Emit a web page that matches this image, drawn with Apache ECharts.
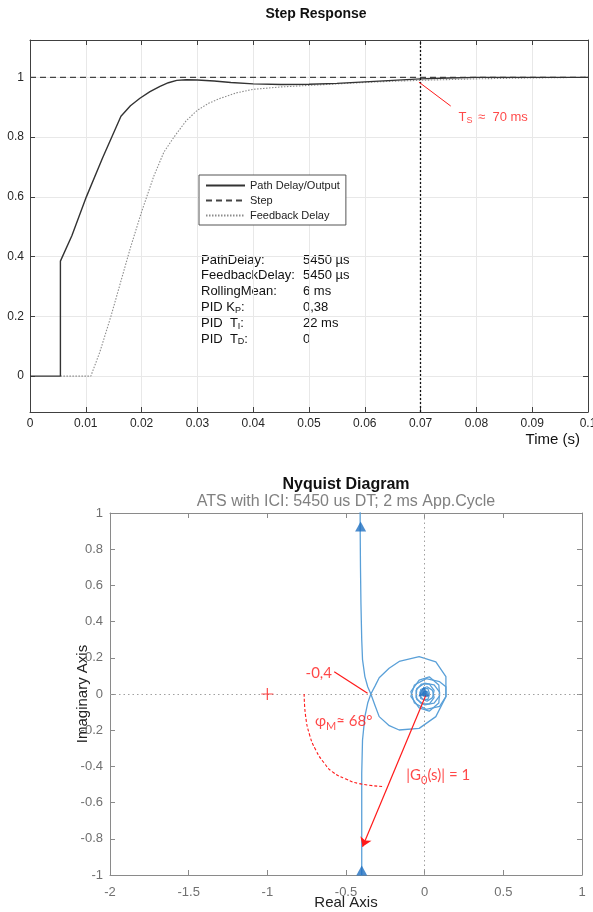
<!DOCTYPE html>
<html>
<head>
<meta charset="utf-8">
<script src="https://cdn.jsdelivr.net/npm/echarts@6/dist/echarts.min.js"></script>
<style>
html, body { margin: 0; padding: 0; background: #fff; }
#chart { width: 593px; height: 912px; }
</style>
</head>
<body>
<div id="chart"></div>
<script>
// ---- step response ----
const pathOutput = [
  [0, 0], [0.00545, 0], [0.00545, 0.385], [0.0075, 0.47], [0.0101, 0.60], [0.013, 0.73],
  [0.0163, 0.87], [0.018, 0.905], [0.0197, 0.93], [0.0215, 0.952], [0.0233, 0.97],
  [0.0248, 0.982], [0.0263, 0.99], [0.028, 0.992], [0.030, 0.991], [0.033, 0.988],
  [0.036, 0.983], [0.040, 0.978], [0.045, 0.976], [0.050, 0.977], [0.055, 0.98],
  [0.060, 0.985], [0.065, 0.99], [0.070, 0.995], [0.075, 0.998], [0.080, 1.0], [0.1, 1.0]
];
const stepInput = [[0, 1], [0.1, 1]];
const feedbackDelay = [
  [0.00545, 0], [0.0109, 0], [0.0125, 0.08], [0.0145, 0.2], [0.018, 0.43], [0.020, 0.55],
  [0.0222, 0.67], [0.024, 0.75], [0.0258, 0.80], [0.028, 0.855], [0.030, 0.89],
  [0.032, 0.913], [0.0341, 0.93], [0.037, 0.948], [0.040, 0.96], [0.045, 0.968],
  [0.050, 0.973], [0.055, 0.978], [0.060, 0.983], [0.065, 0.987], [0.070, 0.99],
  [0.080, 0.995], [0.090, 0.998], [0.1, 1.0]
];
const settleTime = 0.07;
const settlePointer = [[0.0697, 0.984], [0.0754, 0.904]];
const settleLabelAt = [0.0767, 0.867];

const paramLabels = ['PathDelay:', 'FeedbackDelay:', 'RollingMean:',
  '{t|PID K}{s|P}{t|:}', '{t|PID  T}{s|I}{t|:}', '{t|PID  T}{s|D}{t|:}'];
const paramValues = ['5450 µs', '5450 µs', '6 ms', '0,38', '22 ms', '0'];

// ---- nyquist ----
const branchTop = [
  [-0.41, 1.3], [-0.41, 0.92], [-0.408, 0.7], [-0.405, 0.5], [-0.40, 0.3], [-0.395, 0.19],
  [-0.38, 0.096], [-0.362, 0.04], [-0.342, 0.0], [-0.315, -0.065], [-0.289, -0.125],
  [-0.225, -0.175], [-0.162, -0.199], [-0.035, -0.19], [0.071, -0.125], [0.135, -0.015],
  [0.135, 0.04], [0.095, 0.068], [0.01, 0.085], [-0.065, 0.05], [-0.088, -0.013],
  [-0.035, -0.077], [0.029, -0.095], [0.09, -0.05], [0.095, 0.01], [0.06, 0.05], [0.0, 0.06],
  [-0.05, 0.03], [-0.055, -0.02], [-0.02, -0.055], [0.03, -0.055], [0.06, -0.02], [0.05, 0.02],
  [0.015, 0.04], [-0.025, 0.025], [-0.03, -0.01], [-0.01, -0.03], [0.02, -0.03], [0.03, -0.005],
  [0.015, 0.015], [-0.005, 0.012], [-0.012, -0.005], [0, -0.015], [0.01, -0.005], [0, 0]
];
const branchBottom = [
  [-0.40, -1.3], [-0.40, -0.975], [-0.40, -0.7], [-0.40, -0.44], [-0.395, -0.254],
  [-0.38, -0.125], [-0.362, -0.05], [-0.342, 0.0], [-0.315, 0.045], [-0.289, 0.09],
  [-0.226, 0.142], [-0.162, 0.18], [-0.035, 0.206], [0.071, 0.178], [0.135, 0.096],
  [0.135, -0.015], [0.095, -0.068], [0.01, -0.085], [-0.065, -0.05], [-0.088, 0.013],
  [-0.035, 0.077], [0.029, 0.095], [0.09, 0.05], [0.095, -0.01], [0.06, -0.05], [0.0, -0.06],
  [-0.05, -0.03], [-0.055, 0.02], [-0.02, 0.055], [0.03, 0.055], [0.06, 0.02], [0.05, -0.02],
  [0.015, -0.04], [-0.025, -0.025], [-0.03, 0.01], [-0.01, 0.03], [0.02, 0.03], [0.03, 0.005],
  [0.015, -0.015], [-0.005, -0.012], [-0.012, 0.005], [0, 0.015], [0.01, 0.005], [0, 0]
];
const arrowMarks = [[-0.407, 0.925], [-0.40, -0.975], [-0.005, 0.015]];
const criticalPoint = [[-1, 0]];
const crossPointer = [[-0.575, 0.123], [-0.363, 0.004]];
const phaseArc = [
  [-0.766, 0.0], [-0.757, -0.12], [-0.73, -0.23], [-0.692, -0.31], [-0.64, -0.38],
  [-0.586, -0.43], [-0.5, -0.47], [-0.416, -0.495], [-0.257, -0.512]
];
const unitVector = [[0.008, -0.005], [-0.395, -0.844]];
const nyqNoteText = ['-0,4', '{t|φ}{s|M}{t|≈ 68°}', '{t||G}{s|0}{t|(s)| = 1}'];
const nyqNoteAt = [[-0.76, 0.116], [-0.70, -0.15], [-0.12, -0.448]];

const FONT = 'Liberation Sans, Arial, sans-serif';
const NOTE_FONT = 'Lato, Liberation Sans, sans-serif';
const RED = '#ff1a1a';
const BLUE = '#5aa0d8';

const chart = echarts.init(document.getElementById('chart'), null, { renderer: 'canvas' });

const fmt = (d) => (v) => String(+v.toFixed(d));

function boxAxis(grid, pos, min, max, extra) {
  return Object.assign({
    gridIndex: grid, type: 'value', position: pos, min: min, max: max,
    nameMoveOverlap: false,
    axisLine: { show: true, onZero: false, lineStyle: { color: grid === 0 ? '#404040' : '#8a8a8a', width: 1 } },
    axisTick: { show: true, inside: true, length: 5, lineStyle: { color: grid === 0 ? '#404040' : '#8a8a8a' } },
    axisLabel: { show: false },
    splitLine: { show: false }
  }, extra || {});
}

const subRich = (size, color) => ({
  t: { fontSize: size, color: color, fontFamily: NOTE_FONT, lineHeight: size + 4 },
  s: { fontSize: size - 4, color: color, fontFamily: NOTE_FONT, padding: [10, 0, 0, 0] }
});

const graphics = [
  { type: 'text', x: 316, y: 14, style: { text: 'Step Response', font: 'bold 14px ' + FONT, fill: '#111', align: 'center', verticalAlign: 'middle' } },
  { type: 'text', x: 346, y: 485, style: { text: 'Nyquist Diagram', font: 'bold 16px ' + FONT, fill: '#111', align: 'center', verticalAlign: 'middle' } },
  { type: 'text', x: 346, y: 502, style: { text: 'ATS with ICI: 5450 us DT; 2 ms App.Cycle', font: '16px ' + FONT, fill: '#808080', align: 'center', verticalAlign: 'middle' } }
];
paramLabels.forEach((lab, i) => {
  const y = 260 + i * 15.9;
  graphics.push({ type: 'text', x: 201, y: y, style: {
    text: lab, font: '13px ' + FONT, fill: '#111', verticalAlign: 'middle',
    rich: { t: { fontSize: 13, fontFamily: FONT, fill: '#111' }, s: { fontSize: 9, fontFamily: FONT, fill: '#111', padding: [5, 0, 0, 0] } }
  } });
  graphics.push({ type: 'text', x: 303, y: y, style: { text: paramValues[i], font: '13px ' + FONT, fill: '#111', verticalAlign: 'middle' } });
});

const option = {
  animation: false,
  backgroundColor: '#fff',
  textStyle: { fontFamily: FONT },
  grid: [
    { left: 30, top: 40, width: 558, height: 372, show: false, outerBoundsMode: 'none', containLabel: false },
    { left: 110, top: 513, width: 472, height: 362, show: false, outerBoundsMode: 'none', containLabel: false }
  ],
  legend: {
    data: ['Path Delay/Output', 'Step', 'Feedback Delay'],
    orient: 'vertical', left: 199, top: 175,
    itemWidth: 39, itemHeight: 11, itemGap: 4,
    padding: [5, 6, 4, 6],
    borderColor: '#555', borderWidth: 1, backgroundColor: '#fff',
    itemStyle: { opacity: 0 },
    textStyle: { fontSize: 11, color: '#222', fontFamily: FONT }
  },
  xAxis: [
    boxAxis(0, 'bottom', 0, 0.1, {
      interval: 0.01,
      name: 'Time (s)', nameLocation: 'end', nameGap: -8,
      nameTextStyle: { fontSize: 15, color: '#111', align: 'right', verticalAlign: 'top', padding: [20, 0, 0, 0] },
      axisLabel: { show: true, fontSize: 12, color: '#262626', margin: 6, formatter: fmt(2) },
      splitLine: { show: true, lineStyle: { color: '#e8e8e8', width: 1 } }
    }),
    boxAxis(0, 'top', 0, 0.1, { interval: 0.01 }),
    boxAxis(1, 'bottom', -2, 1, {
      interval: 0.5,
      name: 'Real Axis', nameLocation: 'middle', nameGap: 20,
      nameTextStyle: { fontSize: 15, color: '#222' },
      axisLabel: { show: true, fontSize: 13, color: '#707070', margin: 11, formatter: fmt(1) }
    }),
    boxAxis(1, 'top', -2, 1, { interval: 0.5 })
  ],
  yAxis: [
    boxAxis(0, 'left', -0.12, 1.125, {
      splitNumber: 6,
      axisLabel: { show: true, fontSize: 12, color: '#262626', margin: 6, showMinLabel: false, showMaxLabel: false, formatter: fmt(1) },
      splitLine: { show: true, lineStyle: { color: '#e8e8e8', width: 1 } }
    }),
    boxAxis(0, 'right', -0.12, 1.125, { splitNumber: 6 }),
    boxAxis(1, 'left', -1, 1, {
      interval: 0.2,
      name: 'Imaginary Axis', nameLocation: 'middle', nameGap: 20,
      nameTextStyle: { fontSize: 15, color: '#222' },
      axisLabel: { show: true, fontSize: 13, color: '#707070', margin: 7, formatter: fmt(1) }
    }),
    boxAxis(1, 'right', -1, 1, { interval: 0.2 })
  ],
  series: [
    {
      name: 'Path Delay/Output', type: 'line', xAxisIndex: 0, yAxisIndex: 0,
      data: pathOutput, symbol: 'none', smooth: false,
      lineStyle: { color: '#333', width: 1.4 }, itemStyle: { color: '#333' }, z: 4
    },
    {
      name: 'Step', type: 'line', xAxisIndex: 0, yAxisIndex: 0,
      data: stepInput, symbol: 'none',
      lineStyle: { color: '#444', width: 1.4, type: [6, 4] }, itemStyle: { color: '#444' }, z: 3,
      markLine: {
        silent: true, symbol: 'none', label: { show: false },
        lineStyle: { type: [2, 2], color: '#111', width: 1.3 },
        data: [{ xAxis: settleTime }]
      }
    },
    {
      name: 'Feedback Delay', type: 'line', xAxisIndex: 0, yAxisIndex: 0,
      data: feedbackDelay, symbol: 'none',
      lineStyle: { color: '#8c8c8c', width: 1.1, type: [1.5, 1.5] }, itemStyle: { color: '#8c8c8c' }, z: 2
    },
    {
      type: 'line', xAxisIndex: 0, yAxisIndex: 0, data: settlePointer, symbol: 'none',
      lineStyle: { color: RED, width: 1 }, silent: true, z: 5
    },
    {
      type: 'scatter', xAxisIndex: 0, yAxisIndex: 0, data: [settleLabelAt], symbolSize: 1,
      itemStyle: { color: 'rgba(0,0,0,0)' }, silent: true,
      label: {
        show: true, position: 'right', distance: 0,
        formatter: '{t|T}{s|S}{t| ≈  70 ms}',
        rich: {
          t: { fontSize: 13, color: RED, fontFamily: FONT, lineHeight: 18 },
          s: { fontSize: 9, color: RED, fontFamily: FONT, padding: [7, 2, 0, 0] }
        }
      }
    },
    // nyquist curves
    {
      type: 'line', xAxisIndex: 2, yAxisIndex: 2, data: branchTop, symbol: 'none',
      lineStyle: { color: BLUE, width: 1.3 }, silent: true, z: 4,
      markLine: {
        silent: true, symbol: 'none', label: { show: false },
        lineStyle: { type: [1.5, 3], color: '#a0a0a0', width: 1 },
        data: [{ xAxis: 0 }, { yAxis: 0 }]
      }
    },
    {
      type: 'line', xAxisIndex: 2, yAxisIndex: 2, data: branchBottom, symbol: 'none',
      lineStyle: { color: BLUE, width: 1.3 }, silent: true, z: 4
    },
    {
      type: 'scatter', xAxisIndex: 2, yAxisIndex: 2, data: arrowMarks,
      symbol: 'triangle', symbolSize: [11, 10], itemStyle: { color: '#1f6fc0' }, silent: true, z: 6
    },
    {
      type: 'scatter', xAxisIndex: 2, yAxisIndex: 2, data: criticalPoint,
      symbol: 'path://M4.5,0h1v4.5h4.5v1h-4.5v4.5h-1v-4.5h-4.5v-1h4.5z', symbolSize: 12,
      itemStyle: { color: RED }, silent: true, z: 6
    },
    {
      type: 'line', xAxisIndex: 2, yAxisIndex: 2, data: crossPointer, symbol: 'none',
      lineStyle: { color: RED, width: 1.2 }, silent: true, z: 5
    },
    {
      type: 'line', xAxisIndex: 2, yAxisIndex: 2, data: phaseArc, symbol: 'none', smooth: true,
      lineStyle: { color: RED, width: 1.1, type: [3, 2] }, silent: true, z: 5
    },
    {
      type: 'line', xAxisIndex: 2, yAxisIndex: 2, data: [], symbol: 'none', silent: true, z: 5,
      markLine: {
        silent: true, symbol: ['none', 'arrow'], symbolSize: 9, label: { show: false },
        lineStyle: { type: 'solid', color: RED, width: 1.2 },
        data: [[{ coord: unitVector[0] }, { coord: unitVector[1] }]]
      }
    },
    {
      type: 'scatter', xAxisIndex: 2, yAxisIndex: 2, symbolSize: 1, silent: true, z: 7,
      itemStyle: { color: 'rgba(0,0,0,0)' },
      data: nyqNoteAt.map((p, i) => ({ value: p, label: { formatter: nyqNoteText[i] } })),
      label: {
        show: true, position: 'right', distance: 0,
        fontSize: 15, color: RED, fontFamily: NOTE_FONT,
        rich: subRich(15, RED)
      }
    }
  ],
  graphic: graphics
};

chart.setOption(option);
</script>
</body>
</html>
